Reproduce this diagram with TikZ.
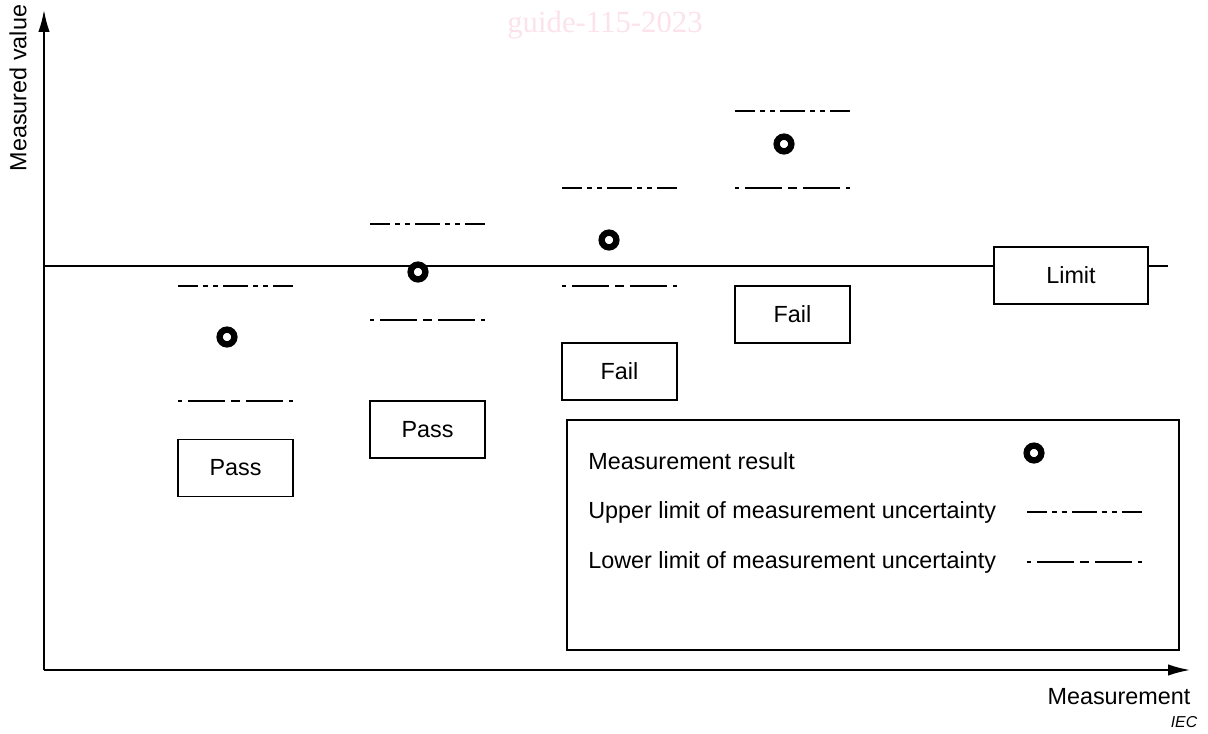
\documentclass[tikz,border=0pt]{standalone}
\usepackage{fontspec}
\setmainfont{Liberation Sans}
\newfontfamily\wmfont{Liberation Serif}
\usetikzlibrary{arrows.meta}
\definecolor{wmpink}{RGB}{252,226,234}
\tikzset{
  verdict/.style={draw, fill=white, line width=0.85pt, minimum width=115*0.569pt,
    minimum height=57*0.569pt, inner sep=0pt, font=\fontsize{13.3}{15}\selectfont},
  result/.style={circle, draw=black, fill=white, line width=3.6pt,
    minimum size=8.4pt, inner sep=0pt},
  upperlim/.style={line width=0.9pt,
    dash pattern=on 14.2pt off 2.85pt on 2.85pt off 2.85pt on 2.85pt off 2.85pt,
    dash phase=2.85pt},
  lowerlim/.style={line width=0.9pt,
    dash pattern=on 5.12pt off 3.41pt on 21.05pt off 3.41pt, dash phase=2.85pt},
  axis/.style={line width=1pt, -{Latex[length=12.5pt,width=6.5pt]}},
  txt/.style={font=\fontsize{13.3}{15}\selectfont, inner sep=0pt}
}
\begin{document}
\begin{tikzpicture}[x=0.02cm, y=-0.02cm]
\useasboundingbox (0,0) rectangle (1208,734);
% watermark
\node[text=wmpink, font=\wmfont\fontsize{17.5}{20}\selectfont] (wm) at (605,25) {guide-115-2023};
% axes
\coordinate (O) at (44,670);
\coordinate (ytop) at (44,10);
\coordinate (xend) at (1190,670);
\draw[axis] (O) -- (ytop);
\draw[axis] (O) -- (xend);
\node[txt, rotate=90] (ylab) at (18,88) {Measured value};
\node[txt] (xlab) at (1119,697) {Measurement};
\node[font=\itshape\fontsize{9}{10}\selectfont, inner sep=0pt] (iec) at (1184,722) {IEC};
% limit
\coordinate (limA) at (44,266);
\coordinate (limB) at (1168,266);
\draw[line width=1.1pt] (limA) -- (limB);
\node[verdict, minimum width=154*0.569pt] (limit) at (1071,275.5) {Limit};
% the four measurements
\foreach \n/\cx/\up/\dx/\dy/\lo/\by/\lab in
  {1/235.5/286/227/337/401/468/Pass, 2/427.5/224/418/272/320/429.5/Pass,
   3/619.5/188/609/240/286/371.5/Fail, 4/792.5/111/784/144/188/314.5/Fail}
{
  \coordinate (u\n a) at (\cx-57.5,\up);
  \coordinate (u\n b) at (\cx+57.5,\up);
  \coordinate (l\n a) at (\cx-57.5,\lo);
  \coordinate (l\n b) at (\cx+57.5,\lo);
  \draw[upperlim] (u\n a) -- (u\n b);
  \draw[lowerlim] (l\n a) -- (l\n b);
  \node[result] (r\n) at (\dx,\dy) {};
  \node[verdict] (v\n) at (\cx,\by) {\lab};
}
% legend
\node[draw, line width=0.85pt, minimum width=612*0.569pt, minimum height=230*0.569pt,
  inner sep=0pt] (legend) at (873,535) {};
\node[txt, anchor=west] (lg1) at (588,461) {Measurement result};
\node[txt, anchor=west] (lg2) at (588,512) {Upper limit of measurement uncertainty};
\node[txt, anchor=west] (lg3) at (588,562) {Lower limit of measurement uncertainty};
\node[result] (lgdot) at (1034,453) {};
\coordinate (lgua) at (1027,512);
\coordinate (lgub) at (1142,512);
\coordinate (lgla) at (1027,562);
\coordinate (lglb) at (1142,562);
\draw[upperlim] (lgua) -- (lgub);
\draw[lowerlim] (lgla) -- (lglb);
\end{tikzpicture}
\end{document}
